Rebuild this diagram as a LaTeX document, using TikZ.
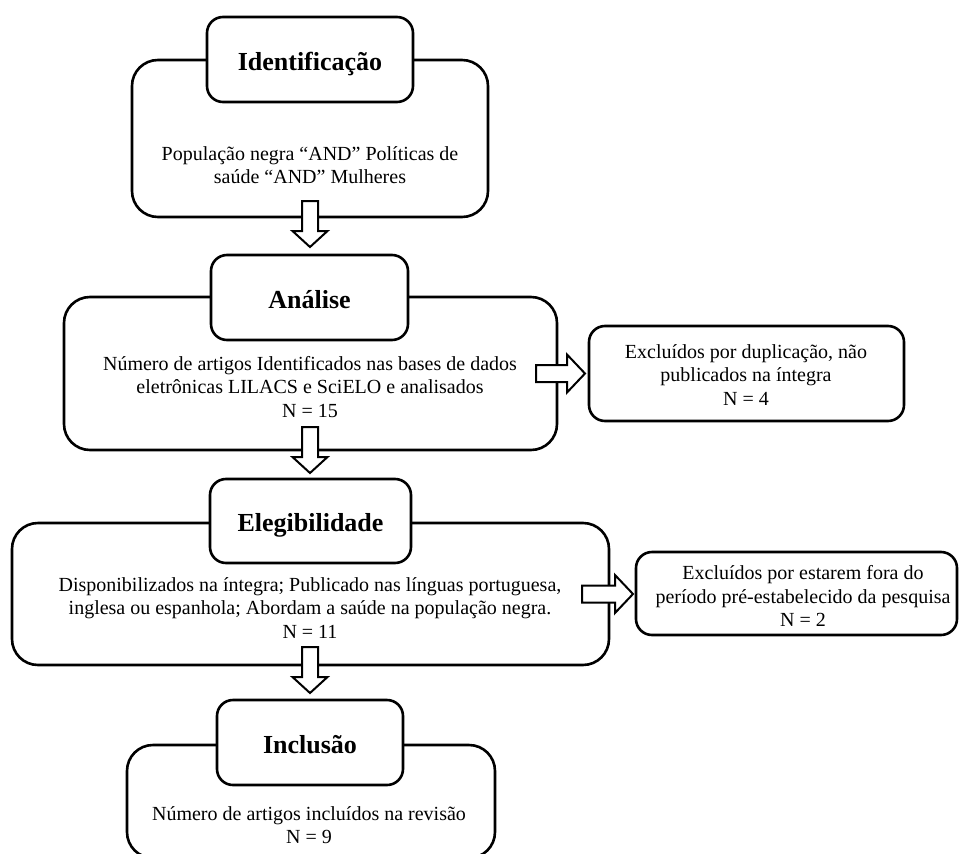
\documentclass[tikz,border=0pt]{standalone}
\usepackage{fontspec}
\setmainfont{Liberation Serif}
\usetikzlibrary{calc}
\tikzset{
  outer/.style={draw, line width=2.6pt, rounded corners=26pt, fill=white, inner sep=0pt},
  header/.style={draw, line width=2.6pt, rounded corners=16pt, fill=white, inner sep=0pt, text height=21pt, text depth=0pt, font=\fontsize{26}{30}\selectfont\bfseries},
  side/.style={draw, line width=2.6pt, rounded corners=16pt, fill=white, inner sep=0pt},
  body/.style={align=center, font=\fontsize{20}{23.5}\selectfont, inner sep=0pt},
  blk/.style={draw, line width=2pt, fill=white, line join=miter}
}
\newcommand\DownBlk[2]{%
  \draw[blk] let \p1=(#1),\p2=(#2) in
    (\x1-8pt,\y1) -- (\x1+8pt,\y1) -- (\x1+8pt,\y2+16pt) -- (\x1+17.5pt,\y2+16pt)
    -- (\x1,\y2) -- (\x1-17.5pt,\y2+16pt) -- (\x1-8pt,\y2+16pt) -- cycle;}
\newcommand\RightBlk[2]{%
  \draw[blk] let \p1=(#1),\p2=(#2) in
    (\x1,\y1+8.5pt) -- (\x2-18pt,\y1+8.5pt) -- (\x2-18pt,\y1+19pt) -- (\x2,\y1)
    -- (\x2-18pt,\y1-19pt) -- (\x2-18pt,\y1-8.5pt) -- (\x1,\y1-8.5pt) -- cycle;}
\begin{document}
\begin{tikzpicture}[x=1pt,y=-1pt]
\useasboundingbox[fill=white] (0,0) rectangle (959,854);
% outer boxes
\node[outer, minimum width=356pt, minimum height=157pt] (idout) at (310,138.5) {};
\node[outer, minimum width=493pt, minimum height=153pt] (anout) at (310.5,373.5) {};
\node[outer, minimum width=597pt, minimum height=142pt] (elout) at (310.5,594) {};
\node[outer, minimum width=368pt, minimum height=113pt] (inout) at (311,801.5) {};
% side boxes
\node[side, minimum width=315pt, minimum height=95pt] (ex1) at (746.5,373.5) {};
\node[side, minimum width=321pt, minimum height=83pt] (ex2) at (796.5,593.5) {};
% headers
\node[header, minimum width=206pt, minimum height=85pt] (idh) at (310,59.5) {Identificação};
\node[header, minimum width=197pt, minimum height=85pt] (anh) at (309.5,297.5) {Análise};
\node[header, minimum width=201pt, minimum height=84pt] (elh) at (310.5,521) {Elegibilidade};
\node[header, minimum width=186pt, minimum height=85pt] (inh) at (310,742.5) {Inclusão};
% arrows
\coordinate (a1s) at (310,201); \coordinate (a1e) at (310,247);
\coordinate (a2s) at (310,427); \coordinate (a2e) at (310,473);
\coordinate (a3s) at (310,647); \coordinate (a3e) at (310,693);
\coordinate (r1s) at (536,373.5); \coordinate (r1e) at (585,373.5);
\coordinate (r2s) at (582,594); \coordinate (r2e) at (633,594);
\DownBlk{a1s}{a1e}
\DownBlk{a2s}{a2e}
\DownBlk{a3s}{a3e}
\RightBlk{r1s}{r1e}
\RightBlk{r2s}{r2e}
% texts
\node[body] (idt) at (310,165) {População negra “AND” Políticas de\\saúde “AND” Mulheres};
\node[body] (ant) at (310,387) {Número de artigos Identificados nas bases de dados\\eletrônicas LILACS e SciELO e analisados\\N = 15};
\node[body] (ex1t) at (746,375) {Excluídos por duplicação, não\\publicados na íntegra\\N = 4};
\node[body] (elt) at (310,608) {Disponibilizados na íntegra; Publicado nas línguas portuguesa,\\inglesa ou espanhola; Abordam a saúde na população negra.\\N = 11};
\node[body] (ex2t) at (803,596) {Excluídos por estarem fora do\\período pré-estabelecido da pesquisa\\N = 2};
\node[body] (int) at (309,825) {Número de artigos incluídos na revisão\\N = 9};
\end{tikzpicture}
\end{document}
